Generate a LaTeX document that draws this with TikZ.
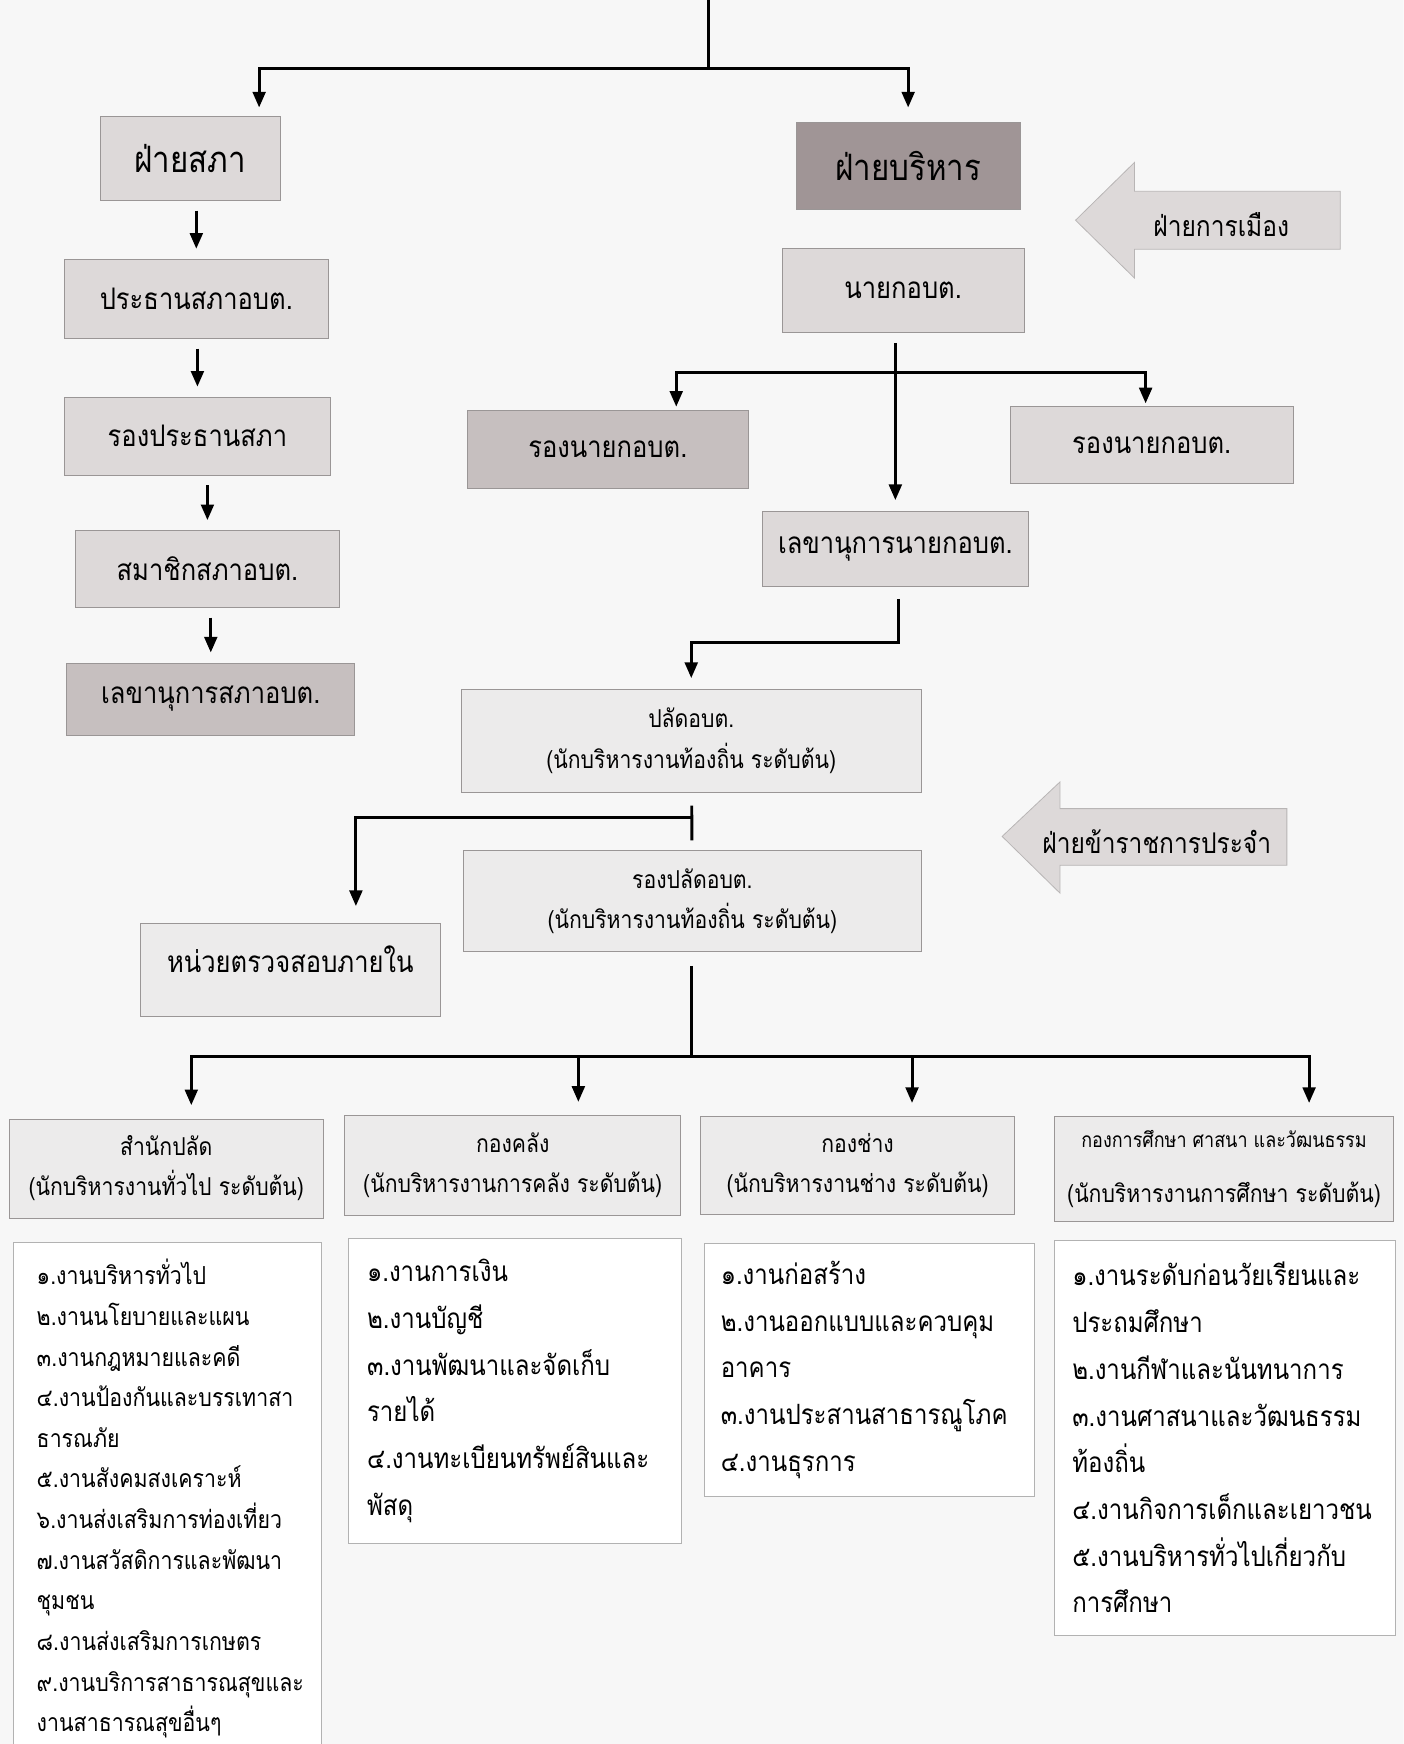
\documentclass[tikz,border=0pt]{standalone}
\usepackage{fontspec}
\newfontfamily\thai[Script=Thai, FakeStretch=0.86]{Loma}
\usetikzlibrary{arrows.meta}

\definecolor{boxlite}{HTML}{DDD9D9}
\definecolor{boxmid}{HTML}{C6BFBF}
\definecolor{boxdark}{HTML}{A09596}
\definecolor{boxpale}{HTML}{ECEBEB}
\definecolor{boxframe}{HTML}{9A9696}

\tikzset{
  wh/.style 2 args={minimum width=#1*0.02cm, minimum height=#2*0.02cm},
  box/.style={draw=boxframe, line width=0.4pt, inner sep=1pt,
    font=\thai\fontsize{15.2}{18}\selectfont},
  headbox/.style={box, font=\thai\fontsize{18.6}{22}\selectfont},
  litebox/.style={box, fill=boxlite},
  midbox/.style={box, fill=boxmid},
  palebox/.style={box, fill=boxpale, align=center,
    font=\thai\fontsize{12.6}{20.5}\selectfont},
  listbox/.style={draw=black!30, line width=0.4pt, fill=white, align=left,
    font=\thai\fontsize{14.3}{23.9}\selectfont},
  link/.style={line width=1.5pt},
  arr/.style={link, -{Triangle[length=8pt,width=6.5pt]},
    shorten <=0.18cm, shorten >=0.18cm},
  blockarrow/.style={fill=boxlite, draw=boxframe!70, line width=0.4pt},
  arrowtext/.style={font=\thai\fontsize{14.6}{18}\selectfont}
}

\begin{document}
\begin{tikzpicture}[x=0.02cm,y=-0.02cm]
  \clip (0,0) rectangle (1262,1568);
  \fill[white!97!black] (0,0) rectangle (1262,1568);

  % ฝ่ายสภา
  \node[headbox, fill=boxlite, wh={162}{75}] (sapha) at (171,142.5) {ฝ่ายสภา};
  \node[litebox, wh={237}{71}] (prathan) at (176.5,268.5) {ประธานสภาอบต.};
  \node[litebox, wh={239}{70}] (rongprathan) at (177.5,392) {รองประธานสภา};
  \node[litebox, wh={237}{69}] (samachik) at (186.5,511.5) {สมาชิกสภาอบต.};
  \node[midbox, wh={259}{65}] (lekhasapha) at (189.5,628.5) {เลขานุการสภาอบต.};

  % ฝ่ายบริหาร
  \node[headbox, fill=boxdark, wh={201}{78}] (borihan) at (816.5,149) {ฝ่ายบริหาร};
  \node[litebox, wh={218}{76}] (nayok) at (812,261) {นายกอบต.};
  \node[midbox, wh={253}{70}] (rongnayokL) at (546.5,404) {รองนายกอบต.};
  \node[litebox, wh={255}{70}] (rongnayokR) at (1035.5,400) {รองนายกอบต.};
  \node[litebox, wh={240}{67}] (lekhanayok) at (805,493.5) {เลขานุการนายกอบต.};

  % ฝ่ายข้าราชการประจำ
  \node[palebox, wh={413}{92}] (palad) at (621.5,666)
    {ปลัดอบต.\\(นักบริหารงานท้องถิ่น ระดับต้น)};
  \node[palebox, wh={411}{90}] (rongpalad) at (622.5,810)
    {รองปลัดอบต.\\(นักบริหารงานท้องถิ่น ระดับต้น)};
  \node[box, fill=boxpale, wh={270}{84}] (audit) at (261,872)
    {\raisebox{0.4cm}{หน่วยตรวจสอบภายใน}};

  % กอง
  \node[palebox, wh={283}{89}] (samnak) at (149.5,1050.5)
    {สำนักปลัด\\(นักบริหารงานทั่วไป ระดับต้น)};
  \node[palebox, wh={302}{90}] (klang) at (461,1048)
    {กองคลัง\\(นักบริหารงานการคลัง ระดับต้น)};
  \node[palebox, wh={282}{88}] (chang) at (771,1048)
    {กองช่าง\\(นักบริหารงานช่าง ระดับต้น)};
  \node[palebox, wh={305}{94}] (suksa) at (1100.5,1051)
    {{\fontsize{10.7}{12}\selectfont กองการศึกษา ศาสนา และวัฒนธรรม}\\[8pt]%
     (นักบริหารงานการศึกษา ระดับต้น)};

  % งานในกอง
  \node[listbox, wh={277}{461}, text width=4.7cm, inner xsep=0.42cm,
    font=\thai\fontsize{12.7}{20.8}\selectfont] (samnaklist) at (150.5,1347.5)
    {๑.งานบริหารทั่วไป\\ ๒.งานนโยบายและแผน\\ ๓.งานกฎหมายและคดี\\
     ๔.งานป้องกันและบรรเทาสา\\ ธารณภัย\\ ๕.งานสังคมสงเคราะห์\\
     ๖.งานส่งเสริมการท่องเที่ยว\\ ๗.งานสวัสดิการและพัฒนา\\ ชุมชน\\
     ๘.งานส่งเสริมการเกษตร\\ ๙.งานบริการสาธารณสุขและ\\ งานสาธารณสุขอื่นๆ};
  \node[listbox, wh={300}{275}, text width=5.32cm, inner xsep=0.34cm]
    (klanglist) at (463,1250.5)
    {๑.งานการเงิน\\ ๒.งานบัญชี\\ ๓.งานพัฒนาและจัดเก็บ\\ รายได้\\
     ๔.งานทะเบียนทรัพย์สินและ\\ พัสดุ};
  \node[listbox, wh={297}{227}, text width=5.34cm, inner xsep=0.3cm]
    (changlist) at (781.5,1231.5)
    {๑.งานก่อสร้าง\\ ๒.งานออกแบบและควบคุม\\ อาคาร\\
     ๓.งานประสานสาธารณูโภค\\ ๔.งานธุรการ};
  \node[listbox, wh={307}{355}, text width=5.5cm, inner xsep=0.32cm]
    (suksalist) at (1101.5,1292.5)
    {๑.งานระดับก่อนวัยเรียนและ\\ ประถมศึกษา\\ ๒.งานกีฬาและนันทนาการ\\
     ๓.งานศาสนาและวัฒนธรรม\\ ท้องถิ่น\\ ๔.งานกิจการเด็กและเยาวชน\\
     ๕.งานบริหารทั่วไปเกี่ยวกับ\\ การศึกษา};

  % ลูกศรใหญ่
  \draw[blockarrow] (967,198) -- (1020,146) -- (1020,172) -- (1205,172)
    -- (1205,224) -- (1020,224) -- (1020,250) -- cycle;
  \node[arrowtext] (kanmuang) at (1098,202) {ฝ่ายการเมือง};
  \draw[blockarrow] (901,752) -- (953,703) -- (953,727) -- (1157,727)
    -- (1157,778) -- (953,778) -- (953,803) -- cycle;
  \node[arrowtext] (prajam) at (1040,757) {ฝ่ายข้าราชการประจำ};

  % เส้นเชื่อม
  \coordinate (top) at (637,0);
  \coordinate (j1) at (637,62);
  \draw[link] (top) -- (j1);
  \draw[arr, shorten <=0pt, shorten >=0.16cm] (j1) -| ([xshift=1.24cm]sapha.north);
  \draw[arr, shorten <=0pt, shorten >=0.26cm] (j1) -| (borihan.north);

  \draw[arr] (sapha.south -| prathan.north) -- (prathan.north);
  \draw[arr] (prathan.south -| rongprathan.north) -- (rongprathan.north);
  \draw[arr] (rongprathan.south -| samachik.north) -- (samachik.north);
  \draw[arr] (samachik.south -| lekhasapha.north) -- (lekhasapha.north);

  \draw[arr, shorten >=0.2cm] (nayok.south -| lekhanayok.north) -- (lekhanayok.north);
  \coordinate (j2) at (805,335);
  \draw[arr, shorten <=0pt, shorten >=0.06cm] (j2) -| ([xshift=1.23cm]rongnayokL.north);
  \draw[arr, shorten <=0pt, shorten >=0.04cm] (j2) -| ([xshift=-0.11cm]rongnayokR.north);

  \coordinate (j3) at (621.5,578);
  \draw[arr, shorten <=0.22cm, shorten >=0.2cm]
    ([xshift=0.06cm]lekhanayok.south) |- (j3) -- (palad.north);

  \draw[link, shorten <=0.24cm, shorten >=0.18cm] (palad) -- (rongpalad);
  \coordinate (j4) at (622,735);
  \draw[arr, shorten <=0pt, shorten >=0.3cm] (j4) -| ([xshift=1.18cm]audit.north);

  \coordinate (j5) at (622,950);
  \draw[link, shorten <=0.26cm] (rongpalad.south -| j5) -- (j5);
  \foreach \dept/\dx in {samnak/0.45cm, klang/1.18cm, chang/0.98cm, suksa/1.53cm}
    \draw[arr, shorten <=0pt, shorten >=0.24cm] (j5) -| ([xshift=\dx]\dept.north);
\end{tikzpicture}
\end{document}
